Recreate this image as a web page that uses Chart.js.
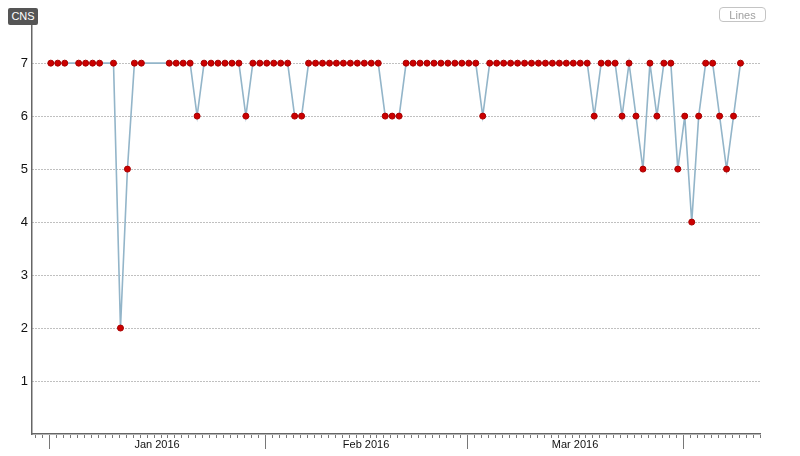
<!DOCTYPE html>
<html><head><meta charset="utf-8">
<script src="https://cdn.jsdelivr.net/npm/chart.js@4/dist/chart.umd.min.js"></script>
<style>
html,body{margin:0;padding:0;background:#fff;}
#wrap{position:relative;width:800px;height:456px;overflow:hidden;}
#c{position:absolute;left:0;top:0;width:800px;height:456px;}
.cns{position:absolute;left:8px;top:8px;width:30px;height:17px;background:#555;color:#fff;border-radius:2px;font:11px 'Liberation Sans',Arial,sans-serif;line-height:17px;text-align:center;}
.lines{position:absolute;left:719px;top:7px;width:47px;height:15px;border:1px solid #c4c4c4;border-radius:4px;color:#a0a0a0;font:11px 'Liberation Sans',Arial,sans-serif;line-height:15px;text-align:center;box-sizing:border-box;}
</style></head>
<body>
<div id="wrap"><canvas id="c" width="800" height="456"></canvas><div class="cns">CNS</div><div class="lines">Lines</div></div>
<script>
// ---- data ----
const dates = [
 '2016-01-01','2016-01-02','2016-01-03','2016-01-05','2016-01-06','2016-01-07','2016-01-08',
 '2016-01-10','2016-01-11','2016-01-12','2016-01-13','2016-01-14',
 '2016-01-18','2016-01-19','2016-01-20','2016-01-21','2016-01-22','2016-01-23','2016-01-24',
 '2016-01-25','2016-01-26','2016-01-27','2016-01-28','2016-01-29','2016-01-30','2016-01-31',
 '2016-02-01','2016-02-02','2016-02-03','2016-02-04','2016-02-05','2016-02-06','2016-02-07',
 '2016-02-08','2016-02-09','2016-02-10','2016-02-11','2016-02-12','2016-02-13','2016-02-14',
 '2016-02-15','2016-02-16','2016-02-17','2016-02-18','2016-02-19','2016-02-20','2016-02-21',
 '2016-02-22','2016-02-23','2016-02-24','2016-02-25','2016-02-26','2016-02-27','2016-02-28',
 '2016-02-29','2016-03-01','2016-03-02','2016-03-03','2016-03-04','2016-03-05','2016-03-06',
 '2016-03-07','2016-03-08','2016-03-09','2016-03-10','2016-03-11','2016-03-12','2016-03-13',
 '2016-03-14','2016-03-15','2016-03-16','2016-03-17','2016-03-18','2016-03-19','2016-03-20',
 '2016-03-21','2016-03-22','2016-03-23','2016-03-24','2016-03-25','2016-03-26','2016-03-27',
 '2016-03-28','2016-03-29','2016-03-30','2016-03-31','2016-04-01','2016-04-02','2016-04-03',
 '2016-04-04','2016-04-05','2016-04-06','2016-04-07','2016-04-08','2016-04-09'
];
const cnsValues = [
 7,7,7,7,7,7,7,
 7,2,5,7,7,
 7,7,7,7,6,7,7,
 7,7,7,7,6,7,7,
 7,7,7,7,6,6,7,
 7,7,7,7,7,7,7,
 7,7,7,6,6,6,7,
 7,7,7,7,7,7,7,
 7,7,7,6,7,7,7,
 7,7,7,7,7,7,7,
 7,7,7,7,7,6,7,
 7,7,6,7,6,5,7,
 6,7,7,5,6,4,6,
 7,7,6,5,6,7
];
const monthStarts = ['2016-01-01','2016-02-01','2016-03-01','2016-04-01','2016-05-01'];
const monthLabels = ['Jan 2016','Feb 2016','Mar 2016','Apr 2016'];
const yTickValues = [1,2,3,4,5,6,7];
const MEASURE_HOUR = 6;

// ---- helpers ----
const EPOCH = Date.UTC(2016,0,1), DAY = 86400000;
function dayOf(s){ const p = s.split('-').map(Number); return (Date.UTC(p[0],p[1]-1,p[2]) - EPOCH)/DAY; }
const points = dates.map((d,i)=>({x: dayOf(d) + MEASURE_HOUR/24, y: cnsValues[i]}));
const X_MIN = -2.45, X_MAX = 102.05;
const monthTickVals = monthStarts.map(dayOf);
const monthMid = monthLabels.map((l,i)=>({value:(monthTickVals[i]+monthTickVals[i+1])/2, label:l}))
  .filter(t => t.value >= X_MIN && t.value <= X_MAX);

const axisTicks = {
  id:'axisTicks',
  afterDraw(chart){
    const xs = chart.scales.x, ctx = chart.ctx, y0 = chart.chartArea.bottom;
    ctx.save(); ctx.strokeStyle = '#777'; ctx.lineWidth = 1;
    for (let d = Math.ceil(X_MIN); d <= Math.floor(X_MAX); d++){
      const px = Math.round(xs.getPixelForValue(d)) + 0.5;
      const major = monthTickVals.includes(d);
      ctx.beginPath(); ctx.moveTo(px, y0 + 1); ctx.lineTo(px, y0 + (major ? 15 : 4)); ctx.stroke();
    }
    ctx.restore();
  }
};

new Chart(document.getElementById('c'), {
  type:'line',
  data:{datasets:[{
    data: points,
    borderColor:'#93b5c9', borderWidth:1.6, tension:0, fill:false,
    pointRadius:3, pointBackgroundColor:'#cc0000', pointBorderColor:'#a80000', pointBorderWidth:1
  }]},
  options:{
    responsive:false, animation:false, devicePixelRatio:1,
    layout:{padding:{top:25,right:40,left:0,bottom:0}},
    plugins:{legend:{display:false}, tooltip:{enabled:false}},
    scales:{
      x:{
        type:'linear', min:X_MIN, max:X_MAX,
        afterBuildTicks: s => { s.ticks = monthMid.map(t => ({value:t.value})); },
        ticks:{
          callback: v => { const t = monthMid.find(m => Math.abs(m.value - v) < 1e-6); return t ? t.label : ''; },
          font:{family:"'Liberation Sans', Arial, sans-serif", size:11}, color:'#111',
          padding:4, maxRotation:0, autoSkip:false
        },
        grid:{display:false, drawTicks:false},
        border:{display:true, color:'#666', width:1.5},
        afterFit: s => { s.height = 22; }
      },
      y:{
        min:0, max:7.72,
        afterBuildTicks: s => { s.ticks = yTickValues.map(v => ({value:v})); },
        ticks:{font:{family:"'Liberation Sans', Arial, sans-serif", size:13}, color:'#111', padding:4},
        grid:{color:'#808080', drawTicks:false, lineWidth:1},
        border:{display:true, color:'#666', width:1.5, dash:[1,2]},
        afterFit: s => { s.width = 32; }
      }
    }
  },
  plugins:[axisTicks]
});
</script>
</body></html>
